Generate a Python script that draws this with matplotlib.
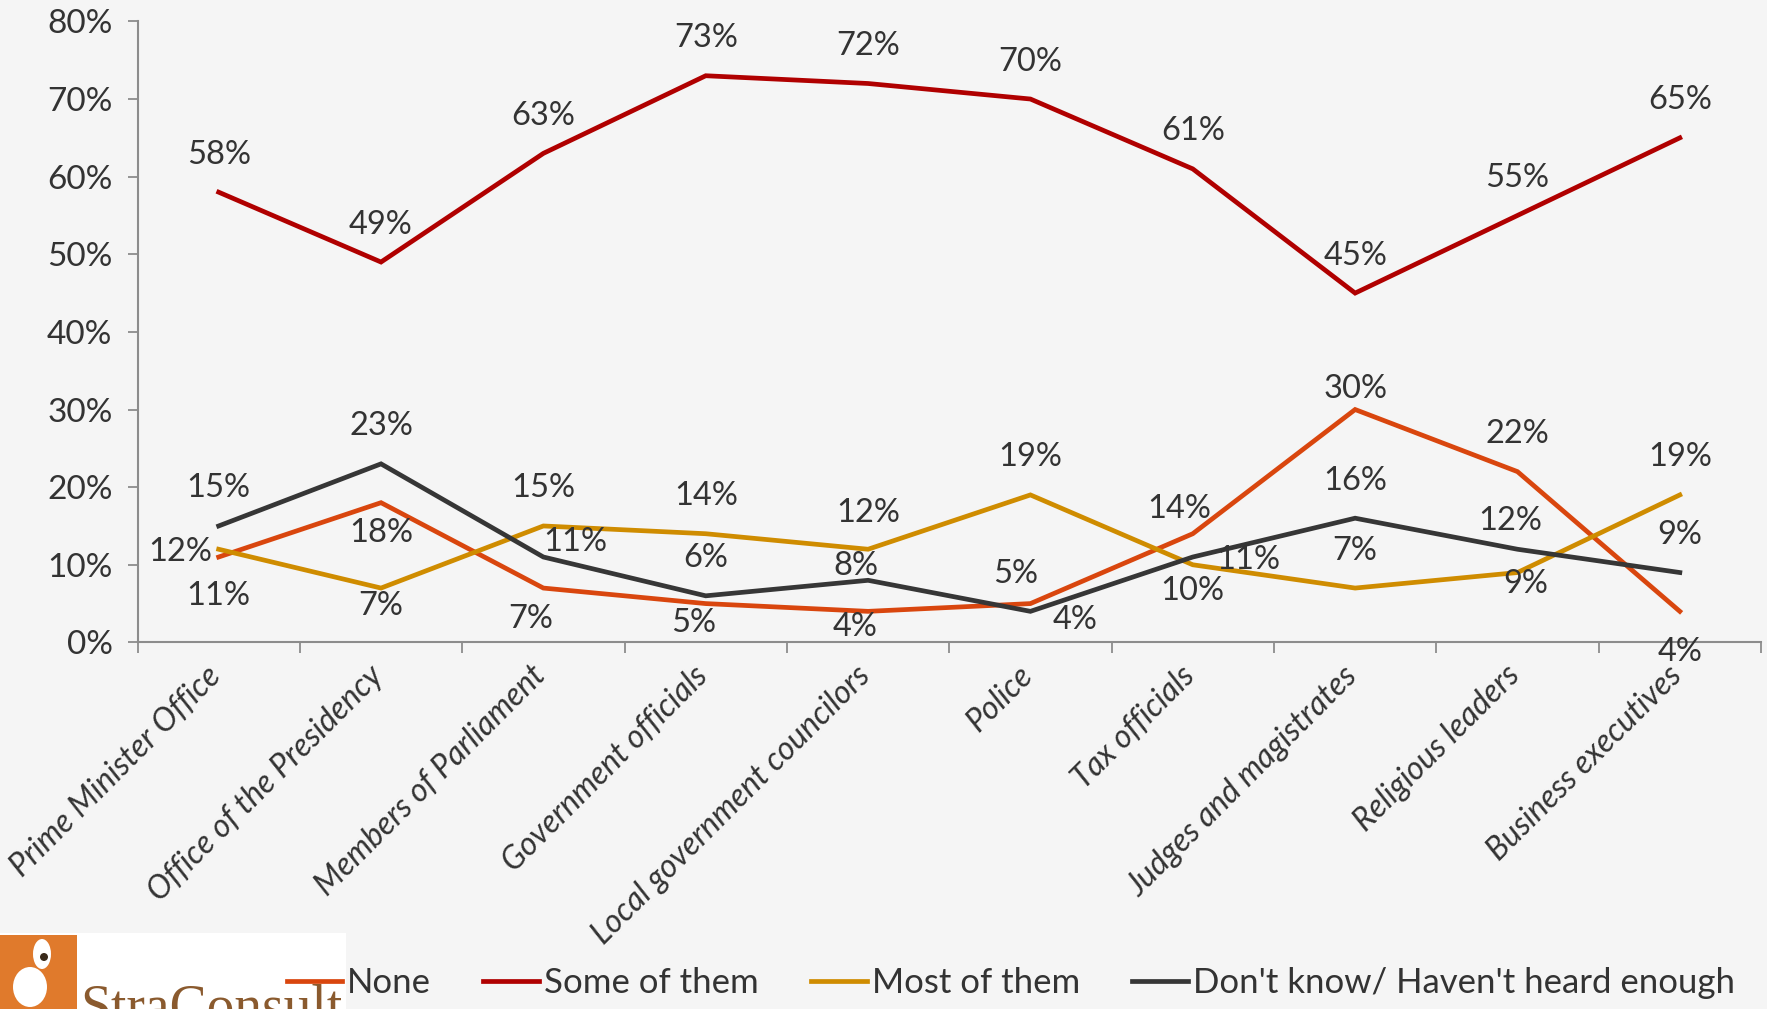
import matplotlib
matplotlib.use("Agg")
import matplotlib.pyplot as plt
import matplotlib.transforms as mtrans
from matplotlib.patches import Rectangle, Ellipse, Circle

plt.rcParams['font.family'] = ['Lato', 'DejaVu Sans']

categories = ["Prime Minister Office", "Office of the Presidency", "Members of Parliament",
              "Government officials", "Local government councilors", "Police", "Tax officials",
              "Judges and magistrates", "Religious leaders", "Business executives"]
series_names = ["None", "Some of them", "Most of them", "Don't know/ Haven't heard enough"]
none_vals = [11, 18, 7, 5, 4, 5, 14, 30, 22, 4]
some_vals = [58, 49, 63, 73, 72, 70, 61, 45, 55, 65]
most_vals = [12, 7, 15, 14, 12, 19, 10, 7, 9, 19]
dk_vals = [15, 23, 11, 6, 8, 4, 11, 16, 12, 9]
y_ticks = [0, 10, 20, 30, 40, 50, 60, 70, 80]

colors = ["#D9460E", "#B00000", "#CF8C00", "#363636"]

# label offsets (points) for each series
off_none = [(0, -28), (0, -22), (-9, -22), (-9, -14), (-9, -11), (-11, 21), (-10, 18), (0, 15), (0, 27), (0, -29)]
off_some = [(0, 27)] * 10
off_most = [(-28, -2), (0, -13), (0, 27), (0, 27), (0, 26), (0, 27), (0, -19), (0, 27), (6, -8), (0, 27)]
off_dk = [(0, 27), (0, 27), (23, 11), (0, 27), (-9, 10), (32, -6), (40, -2), (0, 27), (-5, 20), (0, 27)]

W, H = 1767, 1009
fig = plt.figure(figsize=(W / 100, H / 100), dpi=100)
fig.patch.set_facecolor("#F5F5F5")
ax = fig.add_axes([137.5 / W, 1 - 642.4 / H, (1761 - 137.5) / W, (642.4 - 21.4) / H])
ax.set_facecolor("none")

x = list(range(len(categories)))
all_vals = [none_vals, some_vals, most_vals, dk_vals]
all_offs = [off_none, off_some, off_most, off_dk]
lines = []
for vals, col, name, offs in zip(all_vals, colors, series_names, all_offs):
    ln, = ax.plot(x, vals, color=col, lw=3.4, label=name, solid_joinstyle='miter', zorder=3)
    lines.append(ln)
    for xi, v, (dx, dy) in zip(x, vals, offs):
        ax.annotate(f"{v}%", (xi, v), xytext=(dx, dy), textcoords="offset points",
                    ha="center", va="center", fontsize=23.5, color="#333333", zorder=4)

ax.set_xlim(-0.5, len(categories) - 0.5)
ax.set_ylim(0, 80)
ax.set_yticks(y_ticks)
ax.set_yticklabels([f"{t}%" for t in y_ticks], fontsize=24, color="#333333")

ax.set_xticks(x)
ax.set_xticklabels(categories, rotation=45, ha="right", va="top", fontsize=23,
                   color="#333333", style="italic")
ax.set_xticks([i - 0.5 for i in range(len(categories) + 1)], minor=True)
ax.tick_params(axis="x", which="major", length=0, pad=13)
ax.tick_params(axis="x", which="minor", length=8, width=1.3, color="#8C8C8C")
ax.tick_params(axis="y", length=7, width=1.3, color="#8C8C8C", pad=11)
shift = mtrans.ScaledTranslation(6 / 72, 0, fig.dpi_scale_trans)
for lab in ax.get_xticklabels():
    lab.set_transform(lab.get_transform() + shift)

for s in ["top", "right"]:
    ax.spines[s].set_visible(False)
for s in ["left", "bottom"]:
    ax.spines[s].set_color("#8C8C8C")
    ax.spines[s].set_linewidth(1.5)

# logo (decorative)
logo_ax = fig.add_axes([0, 0, 346 / W, 76 / H])
logo_ax.set_xlim(0, 346)
logo_ax.set_ylim(0, 76)
logo_ax.axis("off")
bg = Rectangle((0, 0), 346, 76, facecolor="white", edgecolor="none")
logo_ax.add_patch(bg)
logo_ax.add_patch(Rectangle((0, 0), 77, 74, facecolor="#E07A2C", edgecolor="none"))
logo_ax.add_patch(Ellipse((30, 22), 34, 40, facecolor="white", edgecolor="none"))
logo_ax.add_patch(Ellipse((42, 55), 18, 30, facecolor="white", edgecolor="none"))
logo_ax.add_patch(Circle((44, 52), 4, facecolor="#3A2A1A", edgecolor="none"))
t = logo_ax.text(80, -14, "StraConsult", fontsize=40, family="Liberation Serif",
                 color="#8A5A2E", ha="left", va="baseline")
t.set_clip_on(True)
t.set_clip_path(bg)

fig.legend(lines, series_names, loc="center", bbox_to_anchor=(0.572, 0.026), ncol=4,
           frameon=False, fontsize=25, handlelength=1.6, handletextpad=0.15,
           columnspacing=1.5, labelcolor="#333333")

fig.savefig("out.png", dpi=100, facecolor=fig.get_facecolor())
